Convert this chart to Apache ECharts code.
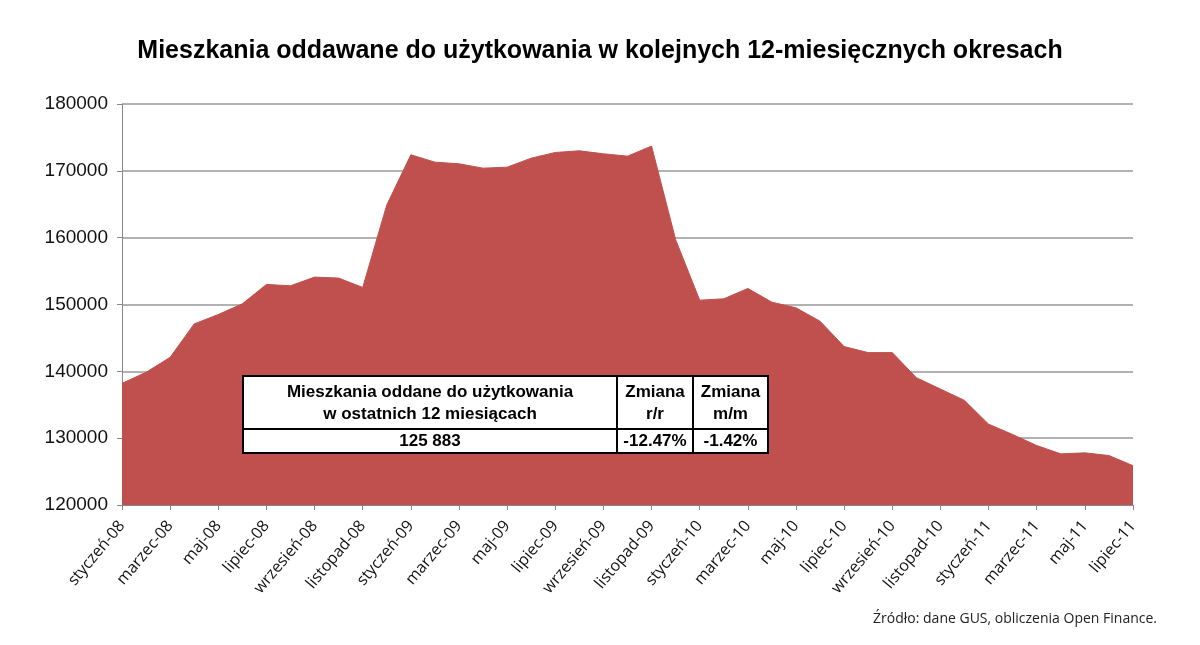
<!DOCTYPE html>
<html>
<head>
<meta charset="utf-8">
<script src="https://cdn.jsdelivr.net/npm/echarts@6/dist/echarts.min.js"></script>
<style>
html,body{margin:0;padding:0;background:#fff;}
#c{width:1200px;height:645px;}
</style>
</head>
<body>
<div id="c"></div>
<script>
var categories = [
 'styczeń-08','luty-08','marzec-08','kwiecień-08','maj-08','czerwiec-08','lipiec-08','sierpień-08','wrzesień-08','październik-08','listopad-08','grudzień-08',
 'styczeń-09','luty-09','marzec-09','kwiecień-09','maj-09','czerwiec-09','lipiec-09','sierpień-09','wrzesień-09','październik-09','listopad-09','grudzień-09',
 'styczeń-10','luty-10','marzec-10','kwiecień-10','maj-10','czerwiec-10','lipiec-10','sierpień-10','wrzesień-10','październik-10','listopad-10','grudzień-10',
 'styczeń-11','luty-11','marzec-11','kwiecień-11','maj-11','czerwiec-11','lipiec-11'
];
var values = [
 138200,139850,142100,147100,148500,150100,153000,152800,154100,153950,152550,164900,
 172400,171300,171050,170400,170550,171900,172750,173000,172550,172200,173700,159700,
 150650,150850,152400,150350,149500,147500,143700,142800,142800,139050,137350,135650,
 132100,130550,128900,127650,127800,127400,125883
];
var title = 'Mieszkania oddawane do użytkowania w kolejnych 12-miesięcznych okresach';
var source = 'Źródło: dane GUS, obliczenia Open Finance.';
var tableHeader = ['Mieszkania oddane do użytkowania\nw ostatnich 12 miesiącach', 'Zmiana\nr/r', 'Zmiana\nm/m'];
var tableValues = ['125 883', '-12.47%', '-1.42%'];

var chart = echarts.init(document.getElementById('c'));
var tx = 243, ty = 376, tw = 525, th = 77, tsplit = 429, c1 = 617, c2 = 693;
var tFont = 'bold 17px "Liberation Sans", Arial, sans-serif';
chart.setOption({
  backgroundColor: '#fff',
  animation: false,
  title: {
    text: title,
    left: 'center',
    top: 34,
    textStyle: {fontFamily: '"Liberation Sans", Arial, sans-serif', fontSize: 25, fontWeight: 'bold', color: '#000'}
  },
  grid: {left: 122, right: 67, top: 104, bottom: 140},
  xAxis: {
    type: 'category',
    data: categories,
    boundaryGap: false,
    axisLine: {lineStyle: {color: '#888', width: 1}},
    axisTick: {interval: 1, length: 5, lineStyle: {color: '#888'}},
    axisLabel: {interval: 1, rotate: 50, fontFamily: '"Open Sans", sans-serif', fontSize: 16, color: '#111', margin: 18}
  },
  yAxis: {
    type: 'value',
    min: 120000, max: 180000, interval: 10000,
    axisLine: {show: true, lineStyle: {color: '#888', width: 1}},
    axisTick: {show: true, length: 5, lineStyle: {color: '#888'}},
    axisLabel: {formatter: function (v) { return String(v); }, fontFamily: '"Liberation Sans", Arial, sans-serif', fontSize: 19, color: '#111', margin: 14},
    splitLine: {lineStyle: {color: '#999', width: 1.5}}
  },
  series: [{
    type: 'line',
    data: values,
    symbol: 'none',
    lineStyle: {color: '#C0504D', width: 1},
    areaStyle: {color: '#C0504D', opacity: 1},
    z: 2
  }],
  graphic: [
    {type: 'rect', z: 100, shape: {x: tx, y: ty, width: tw, height: th}, style: {fill: '#fff', stroke: '#000', lineWidth: 2}},
    {type: 'line', z: 101, shape: {x1: tx, y1: tsplit, x2: tx + tw, y2: tsplit}, style: {stroke: '#000', lineWidth: 2}},
    {type: 'line', z: 101, shape: {x1: c1, y1: ty, x2: c1, y2: ty + th}, style: {stroke: '#000', lineWidth: 2}},
    {type: 'line', z: 101, shape: {x1: c2, y1: ty, x2: c2, y2: ty + th}, style: {stroke: '#000', lineWidth: 2}},
    {type: 'text', z: 102, x: (tx + c1) / 2, y: (ty + tsplit) / 2 + 1, style: {text: tableHeader[0], font: tFont, fill: '#000', textAlign: 'center', textVerticalAlign: 'middle', lineHeight: 22}},
    {type: 'text', z: 102, x: (c1 + c2) / 2, y: (ty + tsplit) / 2 + 1, style: {text: tableHeader[1], font: tFont, fill: '#000', textAlign: 'center', textVerticalAlign: 'middle', lineHeight: 22}},
    {type: 'text', z: 102, x: (c2 + tx + tw) / 2, y: (ty + tsplit) / 2 + 1, style: {text: tableHeader[2], font: tFont, fill: '#000', textAlign: 'center', textVerticalAlign: 'middle', lineHeight: 22}},
    {type: 'text', z: 102, x: (tx + c1) / 2, y: (tsplit + ty + th) / 2, style: {text: tableValues[0], font: tFont, fill: '#000', textAlign: 'center', textVerticalAlign: 'middle'}},
    {type: 'text', z: 102, x: (c1 + c2) / 2, y: (tsplit + ty + th) / 2, style: {text: tableValues[1], font: tFont, fill: '#000', textAlign: 'center', textVerticalAlign: 'middle'}},
    {type: 'text', z: 102, x: (c2 + tx + tw) / 2, y: (tsplit + ty + th) / 2, style: {text: tableValues[2], font: tFont, fill: '#000', textAlign: 'center', textVerticalAlign: 'middle'}},
    {type: 'text', z: 102, right: 43, top: 612, style: {text: source, font: '14px "Open Sans", sans-serif', fill: '#222'}}
  ]
});
</script>
</body>
</html>
